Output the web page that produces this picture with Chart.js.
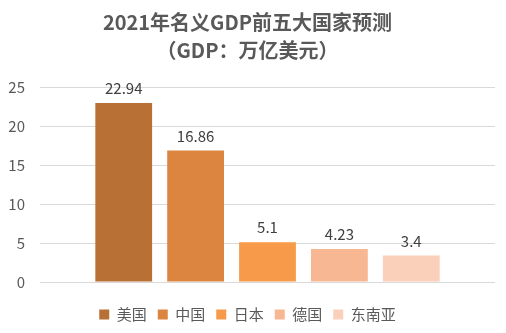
<!DOCTYPE html>
<html>
<head>
<meta charset="utf-8">
<script src="https://cdn.jsdelivr.net/npm/chart.js@4/dist/chart.umd.min.js"></script>
<style>
  html, body { margin: 0; padding: 0; background: #fff; }
  #wrap { width: 506px; height: 333px; }
</style>
</head>
<body>
<div id="wrap"><canvas id="chart-gdp" width="506" height="333"></canvas></div>
<script>
// 2021年名义GDP前五大国家预测
const countries = ['美国', '中国', '日本', '德国', '东南亚'];
const gdpValues = [22.94, 16.86, 5.1, 4.23, 3.4];
const barColors = ['#b97034', '#dc8540', '#f79a4a', '#f8b793', '#fbd0bb'];
const titleLines = ['2021年名义GDP前五大国家预测', '（GDP：万亿美元）'];

const FONT = "'Noto Sans CJK SC', 'Noto Sans', sans-serif";

// 每个国家一个数据集，这样图例能显示每个颜色
const datasets = countries.map(function(name, i) {
    return {
        label: name,
        data: [gdpValues[i]],
        backgroundColor: barColors[i],
        borderWidth: 0
    };
});

// 柱子上方的数值标签
const valueLabels = {
    id: 'valueLabels',
    afterDatasetsDraw: function(chart) {
        const ctx = chart.ctx;
        ctx.save();
        ctx.font = '15px ' + FONT;
        ctx.fillStyle = '#404040';
        ctx.textAlign = 'center';
        ctx.textBaseline = 'bottom';
        chart.data.datasets.forEach(function(ds, i) {
            const meta = chart.getDatasetMeta(i);
            if (meta.hidden) return;
            const bar = meta.data[0];
            ctx.fillText(String(ds.data[0]), bar.x, bar.y - 7);
        });
        ctx.restore();
    }
};

new Chart(document.getElementById('chart-gdp'), {
    type: 'bar',
    data: {
        labels: [''],
        datasets: datasets
    },
    options: {
        responsive: false,
        animation: false,
        layout: {
            padding: { left: 0, right: 11, top: 0, bottom: 1 }
        },
        datasets: {
            bar: {
                categoryPercentage: 0.79,
                barPercentage: 0.79
            }
        },
        plugins: {
            title: {
                display: true,
                text: titleLines,
                color: '#595959',
                font: { family: FONT, size: 20, weight: 'bold', lineHeight: 1.4 },
                padding: { top: 8, bottom: 23 }
            },
            legend: {
                position: 'bottom',
                labels: {
                    color: '#595959',
                    font: { family: FONT, size: 15 },
                    boxWidth: 10,
                    boxHeight: 10,
                    padding: 11
                }
            },
            tooltip: { enabled: false }
        },
        scales: {
            x: {
                ticks: { display: false },
                grid: { display: false },
                border: { display: false },
                afterFit: function(scale) { scale.height = 14; }
            },
            y: {
                min: 0,
                max: 25,
                ticks: {
                    stepSize: 5,
                    color: '#595959',
                    padding: 15,
                    font: { family: FONT, size: 15 }
                },
                grid: {
                    color: '#d9d9d9',
                    drawTicks: false
                },
                border: { display: false },
                afterFit: function(scale) { scale.width = 40; }
            }
        }
    },
    plugins: [valueLabels]
});
</script>
</body>
</html>
